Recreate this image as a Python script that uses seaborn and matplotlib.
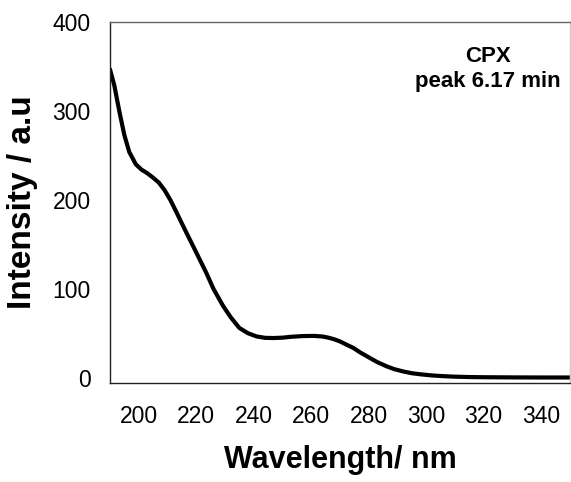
import matplotlib
matplotlib.use("Agg")
import matplotlib.pyplot as plt
import seaborn as sns
import pandas as pd

wavelength = [190, 191.5, 193.3, 195, 196.7, 199, 201, 203, 205, 207, 209, 211, 213,
              216, 218, 220, 223.5, 226, 229.3, 232, 235, 238, 241, 244, 247, 250,
              253, 257, 261, 264, 266, 268, 270, 272, 274.7, 277, 280.5, 283, 286.3,
              289, 292, 295, 298, 302, 306, 310, 315, 320, 330, 340, 350]
intensity = [347, 329, 299, 273, 254, 240, 234, 230, 225, 219.5, 211, 200, 187,
             167, 154, 141, 118, 100, 81, 68, 56, 50, 46.4, 44.8, 44.6, 45,
             46, 46.8, 47, 46.3, 45, 43.2, 40.8, 37.6, 33.4, 28.5, 22, 17.5, 12.7,
             9.5, 7, 5, 3.8, 2.5, 1.7, 1.1, 0.7, 0.5, 0.3, 0.2, 0.2]
xticks = [200, 220, 240, 260, 280, 300, 320, 340]
yticks = [0, 100, 200, 300, 400]
annotation = "CPX\npeak 6.17 min"
xlabel = "Wavelength/ nm"
ylabel = "Intensity / a.u"

sns.set_style("white")
plt.rcParams['font.family'] = ['Liberation Sans', 'DejaVu Sans']
plt.rcParams['text.color'] = 'black'
plt.rcParams['axes.labelcolor'] = 'black'

df = pd.DataFrame({"wavelength": wavelength, "intensity": intensity})

fig = plt.figure(figsize=(5.71, 4.82), dpi=100)
ax = fig.add_axes([0.1926, 0.2054, 0.8054, 0.7486])
sns.lineplot(data=df, x="wavelength", y="intensity", ax=ax, color="black", linewidth=3)

ax.set_xlim(190, 350)
ax.set_ylim(-6, 400)
ax.set_xticks(xticks)
ax.set_yticks(yticks)
ax.tick_params(axis='both', direction='out', length=5, width=1, colors='#333333',
               labelsize=16.5, labelcolor='black')
ax.tick_params(axis='x', pad=11)
ax.tick_params(axis='y', pad=9)
ax.set_xlabel(xlabel, fontsize=22, fontweight='bold', labelpad=12, color='black')
ax.set_ylabel(ylabel, fontsize=24, fontweight='bold', labelpad=10, color='black')

ax.spines['left'].set_color('#222222')
ax.spines['bottom'].set_color('#222222')
ax.spines['top'].set_color('#666666')
ax.spines['right'].set_color('#cccccc')
for s in ax.spines.values():
    s.set_linewidth(1)

ax.text(0.822, 0.87, annotation, transform=ax.transAxes, ha='center', va='center',
        fontsize=16, fontweight='bold', linespacing=1.2, color='black')

fig.savefig("out.png", dpi=100)
